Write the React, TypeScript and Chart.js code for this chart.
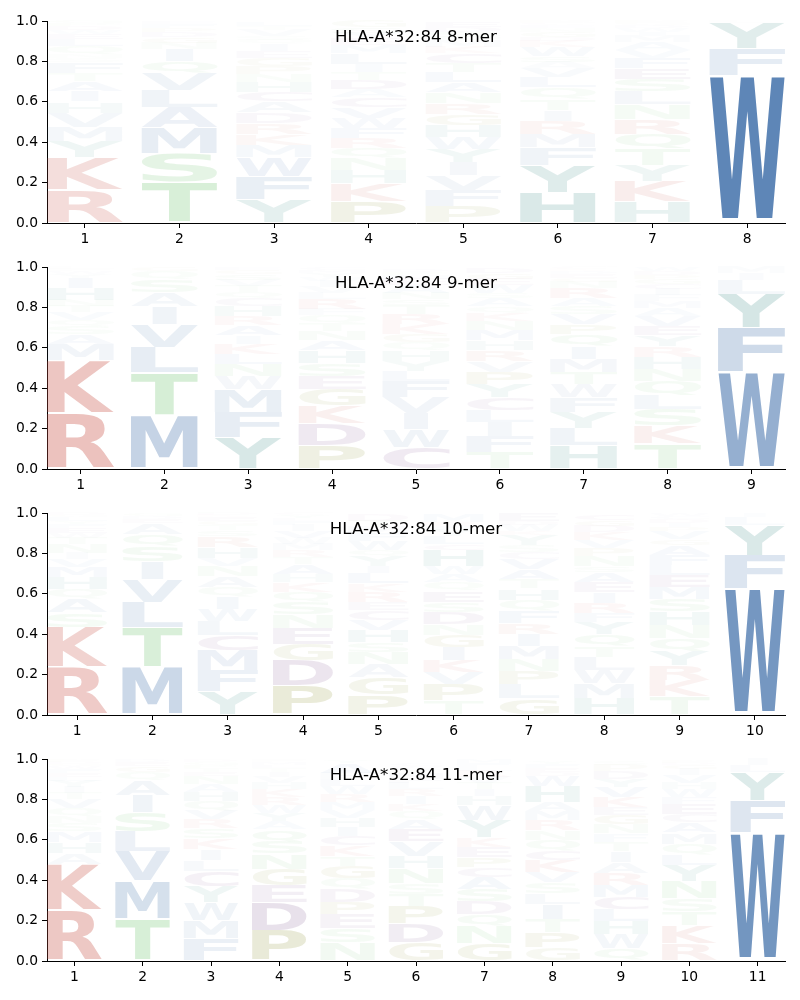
import React, { useEffect, useRef } from "react";
import { Chart, registerables } from "chart.js";

Chart.register(...registerables);

const titles = ["HLA-A*32:84 8-mer", "HLA-A*32:84 9-mer", "HLA-A*32:84 10-mer", "HLA-A*32:84 11-mer"];

const letters8 = [
  "RKYMVHIATFSNQLEWDPG",
  "TSMALVQINGDPFE",
  "YFWMKRDACHNPGEIQSVTL",
  "PKHNQRFWVCADTILMEYSG",
  "PFVIYWHGRNALTCKMQSDE",
  "HYFMRITQLVASWKDGNECP",
  "HKYTQRNLSEFVAMIWDGP",
  "WFYL",
];
const heights8 = [
  [.165, .16, .08, .07, .07, .055, .05, .05, .04, .055, .02, .02, .04, .035, .025, .02, .02, .015, .015],
  [.2, .145, .125, .1, .085, .085, .06, .06, .03, .03, .025, .02, .02, .015],
  [.115, .115, .095, .06, .055, .055, .05, .055, .045, .05, .04, .04, .04, .035, .035, .02, .02, .03, .02, .02],
  [.105, .09, .065, .06, .05, .05, .05, .05, .05, .05, .04, .045, .04, .04, .055, .04, .03, .03, .03, .035],
  [.08, .08, .075, .065, .065, .06, .06, .055, .055, .05, .05, .05, .045, .05, .03, .03, .02, .025, .025, .025],
  [.15, .135, .09, .065, .065, .055, .055, .055, .05, .045, .03, .03, .045, .03, .02, .025, .02, .015, .01, .01],
  [.105, .1, .08, .08, .075, .075, .07, .065, .06, .055, .05, .04, .04, .03, .02, .02, .015, .01, .01],
  [.727, .133, .13, .01],
];

const letters9 = [
  "RKMASQVTNHIYWFL",
  "MTLVIASQG",
  "YFMWNLKIARHCQTVSGE",
  "PDKGESHANTQFRLVIWYMC",
  "CWIVFLYHQGKRTSNAEMPD",
  "TFILCYPVRHMNKQASWEGD",
  "HLYFWTMIQPVSARNGEDKC",
  "TKSLQNHRYEVAMFICGPDW",
  "WFYLIM",
];
const heights9 = [
  [.275, .26, .08, .05, .04, .03, .04, .03, .03, .06, .05, .02, .015, .01, .01],
  [.265, .21, .125, .115, .09, .07, .065, .04, .02],
  [.155, .125, .115, .065, .06, .05, .05, .04, .05, .045, .05, .04, .03, .03, .03, .03, .02, .015],
  [.115, .11, .09, .08, .065, .065, .06, .05, .045, .04, .04, .03, .05, .03, .03, .03, .02, .02, .015, .015],
  [.105, .09, .08, .08, .08, .05, .05, .05, .04, .04, .05, .05, .045, .03, .03, .04, .03, .02, .015, .015],
  [.08, .08, .07, .06, .065, .065, .06, .055, .055, .045, .05, .045, .04, .035, .04, .025, .04, .03, .03, .025],
  [.115, .085, .08, .075, .065, .06, .065, .06, .06, .05, .05, .04, .04, .05, .03, .02, .02, .015, .01, .01],
  [.125, .09, .08, .07, .07, .06, .06, .05, .055, .045, .05, .04, .035, .03, .03, .025, .025, .02, .02, .02],
  [.48, .22, .165, .07, .035, .03],
];

const letters10 = [
  "RKSAQHMVINTWEFYLGD",
  "MTLVISQAEDG",
  "YFMCLWIQANVHRSTGEKDP",
  "PDGENSQKHATRMWVIFLYC",
  "PGANSHVCERKLIYQWFMTD",
  "TPVKIGNDSEQAWHCLYFRM",
  "GLPNMIRFQHTAVCSYKWDE",
  "HMWLTQYFRIEASNPVKDGC",
  "TKRYQNHSMELFAGVPIDCW",
  "WFYLI",
];
const heights10 = [
  [.235, .2, .07, .07, .045, .06, .05, .04, .03, .045, .03, .025, .025, .02, .015, .02, .01, .01],
  [.235, .195, .125, .115, .09, .075, .06, .055, .02, .015, .015],
  [.115, .105, .1, .075, .07, .06, .06, .045, .055, .05, .04, .055, .055, .03, .025, .02, .02, .01, .01, .005],
  [.145, .125, .08, .08, .065, .065, .05, .045, .04, .05, .035, .035, .03, .03, .035, .03, .02, .015, .015, .01],
  [.1, .085, .065, .06, .05, .06, .05, .05, .04, .05, .04, .05, .035, .05, .03, .045, .04, .03, .03, .03],
  [.07, .08, .06, .06, .065, .06, .055, .06, .05, .055, .04, .04, .04, .08, .03, .04, .03, .02, .02, .04],
  [.08, .07, .065, .06, .065, .06, .055, .06, .055, .055, .045, .05, .05, .035, .035, .05, .02, .03, .02, .04],
  [.08, .075, .065, .065, .055, .06, .06, .045, .05, .05, .05, .05, .03, .05, .04, .04, .04, .03, .03, .03],
  [.09, .08, .075, .07, .065, .065, .065, .06, .06, .06, .05, .05, .05, .03, .04, .02, .02, .02, .015, .015],
  [.625, .165, .15, .04, .02],
];

const letters11 = [
  "RKAHMSNQVTIYLEFWGDP",
  "TMVLSIAQGED",
  "FMWYCLIKSRVQHANETPGD",
  "PDEGNSQAYWRKHVITLMFC",
  "NSEPDQGTKCIHVMRWLFAY",
  "GDPTSNHVEAQKIRLFMYWC",
  "GNQDSACPEKYWHITVRLFM",
  "GPTILSVKCQNRMAHWDEFY",
  "QWHLCMRAITFNGEKVYDPS",
  "RKTSNYLQMACEFWHVIGDP",
  "WFYLI",
];
const heights11 = [
  [.25, .23, .055, .055, .05, .04, .035, .04, .045, .03, .03, .03, .02, .02, .02, .015, .01, .01, .01],
  [.205, .19, .145, .1, .095, .085, .075, .04, .03, .02, .015],
  [.11, .09, .09, .08, .075, .055, .055, .05, .05, .045, .045, .045, .045, .04, .04, .02, .02, .015, .015, .01],
  [.15, .14, .085, .08, .075, .06, .06, .04, .04, .04, .04, .04, .03, .03, .025, .02, .015, .015, .01, .005],
  [.09, .07, .07, .06, .065, .055, .06, .05, .05, .045, .045, .045, .04, .04, .04, .04, .035, .03, .05, .015],
  [.09, .095, .085, .06, .055, .075, .06, .07, .06, .05, .04, .035, .04, .035, .03, .025, .025, .02, .015, .015],
  [.085, .085, .06, .065, .06, .06, .05, .05, .05, .045, .085, .075, .045, .035, .03, .03, .03, .02, .02, .02],
  [.065, .075, .065, .075, .055, .055, .05, .06, .045, .055, .045, .05, .045, .045, .08, .05, .02, .02, .02, .015],
  [.06, .07, .065, .06, .06, .06, .06, .055, .055, .045, .04, .045, .045, .04, .05, .05, .04, .04, .03, .02],
  [.085, .09, .07, .065, .085, .08, .05, .055, .055, .05, .04, .05, .035, .04, .03, .04, .03, .02, .01, .01],
  [.635, .16, .14, .035, .03],
];

const panelLetters = [letters8, letters9, letters10, letters11];
const panelHeights = [heights8, heights9, heights10, heights11];

const classColors: Record<string, string> = {
  R: "199,79,67", K: "199,79,67",
  D: "111,61,130", E: "111,61,130", C: "111,61,130",
  G: "127,133,27", P: "127,133,27",
  H: "39,129,121", Y: "39,129,121",
  S: "99,191,100", T: "99,191,100", N: "99,191,100", Q: "99,191,100",
  A: "78,122,176", F: "78,122,176", I: "78,122,176", L: "78,122,176",
  M: "78,122,176", V: "78,122,176", W: "78,122,176",
};

const FONT_STACK = '"DejaVu Sans", sans-serif';

const logoPlugin = {
  id: "logoGlyphs",
  beforeDatasetsDraw(chart: any) {
    const ctx = chart.ctx;
    chart.data.datasets.forEach((ds: any, di: number) => {
      const meta = chart.getDatasetMeta(di);
      meta.data.forEach((bar: any, i: number) => {
        const letter = ds.letters[i];
        const total = bar.base - bar.y;
        let w = bar.width;
        if (letter === "I") w *= 0.36;
        const left = bar.x - w / 2;
        const top = bar.y + total * 0.012;
        const height = total * 0.958;
        ctx.save();
        ctx.font = `bold 100px ${FONT_STACK}`;
        ctx.textBaseline = "alphabetic";
        ctx.textAlign = "left";
        const m = ctx.measureText(letter);
        const gw = m.actualBoundingBoxLeft + m.actualBoundingBoxRight;
        const gh = m.actualBoundingBoxAscent + m.actualBoundingBoxDescent;
        ctx.translate(left, top);
        ctx.scale(w / gw, height / gh);
        ctx.fillStyle = ds.backgroundColor[i];
        ctx.fillText(letter, m.actualBoundingBoxLeft, m.actualBoundingBoxAscent);
        ctx.restore();
      });
    });
    return false;
  },
  afterDraw(chart: any) {
    const ctx = chart.ctx;
    const a = chart.chartArea;
    ctx.save();
    ctx.font = `16.67px ${FONT_STACK}`;
    ctx.fillStyle = "#000";
    ctx.textAlign = "center";
    ctx.textBaseline = "middle";
    ctx.fillText(chart.options.plugins.logoGlyphs.title, (a.left + a.right) / 2, a.top + 17);
    ctx.restore();
  },
};

function Panel({ index }: { index: number }) {
  const ref = useRef<HTMLCanvasElement>(null);
  useEffect(() => {
    const letters = panelLetters[index];
    const heights = panelHeights[index];
    const maxRank = Math.max(...letters.map((s) => s.length));
    const datasets: any[] = [];
    for (let r = 0; r < maxRank; r++) {
      const data: any[] = [];
      const lets: string[] = [];
      const colors: string[] = [];
      letters.forEach((s, p) => {
        if (r < s.length) {
          const h = heights[p][r];
          data.push({ x: p + 1, y: h });
          lets.push(s[r]);
          const alpha = Math.min(1, h * Math.min(1.25, 0.7 + 3 * h));
          colors.push(`rgba(${classColors[s[r]]},${alpha.toFixed(3)})`);
        }
      });
      datasets.push({
        data,
        letters: lets,
        backgroundColor: colors,
        stack: "logo",
        categoryPercentage: 0.8,
        barPercentage: 1,
        borderWidth: 0,
      });
    }
    const positions = letters.map((_, i) => i + 1);
    const tickFont = { family: FONT_STACK, size: 13.89 };
    const chart = new Chart(ref.current as HTMLCanvasElement, {
      type: "bar",
      data: { datasets },
      plugins: [logoPlugin],
      options: {
        animation: false,
        responsive: false,
        devicePixelRatio: 1,
        layout: { padding: { top: 21, right: 15, left: 0, bottom: 0 } },
        plugins: {
          legend: { display: false },
          tooltip: { enabled: false },
          logoGlyphs: { title: titles[index] },
        },
        scales: {
          x: {
            type: "linear",
            stacked: true,
            offset: false,
            min: 0.6,
            max: letters.length + 0.4,
            afterBuildTicks: (axis: any) => {
              axis.ticks = positions.map((v) => ({ value: v }));
            },
            afterFit: (axis: any) => {
              axis.height = 23;
            },
            grid: { display: true, offset: false, drawOnChartArea: false, drawTicks: true, tickLength: 5, tickColor: "#000", tickWidth: 1 },
            border: { display: true, color: "#000", width: 1 },
            ticks: { color: "#000", font: tickFont, padding: 3, maxRotation: 0, autoSkip: false, callback: (v: any) => String(v) },
          },
          y: {
            type: "linear",
            stacked: true,
            min: 0,
            max: 1,
            afterFit: (axis: any) => {
              axis.width = 47;
            },
            grid: { display: true, drawOnChartArea: false, drawTicks: true, tickLength: 5, tickColor: "#000", tickWidth: 1 },
            border: { display: true, color: "#000", width: 1 },
            ticks: { color: "#000", font: tickFont, padding: 4, stepSize: 0.2, callback: (v: any) => Number(v).toFixed(1) },
          },
        },
      } as any,
    });
    return () => chart.destroy();
  }, [index]);
  return (
    <canvas
      ref={ref}
      width={800}
      height={246}
      style={{ position: "absolute", left: 0, top: index * 246, width: 800, height: 246, display: "block" }}
    />
  );
}

export default function App() {
  useEffect(() => {
    document.body.style.margin = "0";
  }, []);
  return (
    <div style={{ position: "relative", width: 800, height: 1000, background: "#fff" }}>
      {titles.map((_, i) => (
        <Panel key={i} index={i} />
      ))}
    </div>
  );
}
